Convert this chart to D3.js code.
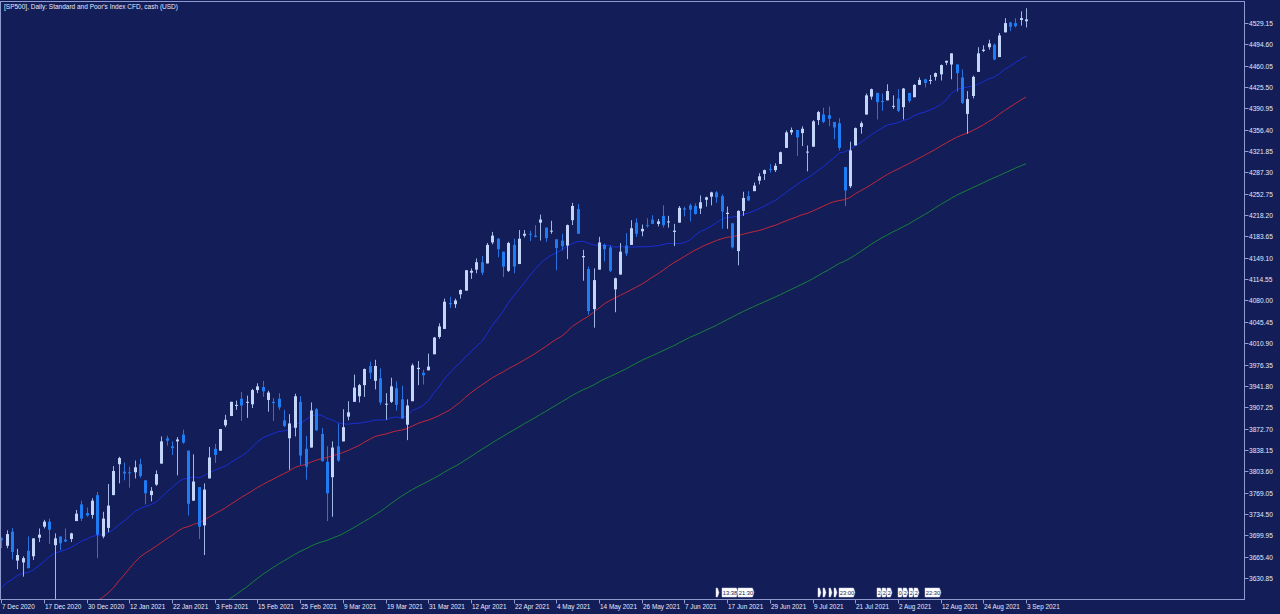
<!DOCTYPE html>
<html><head><meta charset="utf-8">
<script src="https://cdn.jsdelivr.net/npm/d3@7/dist/d3.min.js"></script>
<style>
html,body{margin:0;padding:0;background:#131d57;overflow:hidden}
svg{display:block}
text{font-family:"Liberation Sans",Arial,sans-serif}
</style></head>
<body>
<svg id="c" width="1280" height="614"></svg>
<script>
// ---------- DATA ----------
const title = "[SP500], Daily:  Standard and Poor's Index CFD, cash (USD)";
const firstDate = "2020-08-31", lastDate = "2021-09-03";
const closedDays = ["2020-12-25", "2021-01-01"];
const chartStart = "2020-12-07";
// closes before the visible window (used for moving averages)
const preCloses = [3500.3,3526.7,3580.8,3455.1,3427.0,3400,3331.8,3399.0,3339.2,3341.0,3383.5,3401.2,3385.5,3357.0,3319.5,3281.1,3315.6,3236.9,3246.6,3298.5,3351.6,3335.5,3363.0,
3380.8,3348.4,3408.6,3361.0,3419.4,3446.8,3477.1,3534.2,3511.9,3488.7,3483.3,3483.8,3426.9,3443.1,3435.6,3453.5,3465.4,3401.0,3390.7,3271.0,3310.1,3270.0,
3310.2,3369.2,3443.4,3510.5,3509.4,3550.5,3545.5,3572.7,3537.0,3585.2,3626.9,3609.5,3567.8,3581.9,3557.5,3577.6,3635.4,3629.7,3632.0,3638.4,3621.6,
3662.5,3669.0,3666.7,3699.1];
const opens = [3695,3683,3706,3659,3656,3675,3666,3696,3714,3722,3684,3698,3693,3694,3723,3750,3736,3733,
3765,3698,3712,3765,3815,3803,3802,3802,3815,3789,3765,3782,3816,3857,3844,3852,3863,3837,3756,3778,
3716,3792,3840,3837,3878,3893,3910,3921,3916,3912,3935,3940,3919,3916,3921,3886,3857,3874,3916,3840,
3842,3904,3864,3819,3794,3844,3852,3892,3916,3925,3943,3974,3950,3954,3913,3916,3938,3920,3879,3917,3969,3963,3967,
3993,4021,4034,4076,4074,4090,4096,4125,4130,4142,4140,4174,4180,4159,4128,4170,4139,4185,4188,4185,4206,4198,
4192,4179,4177,4169,4210,4228,4150,4131,4066,4130,4170,4166,4098,4122,4169,4170,4206,4192,4202,4211,4204,
4217,4207,4191,4206,4229,4234,4233,4229,4243,4248,4255,4249,4220,4205,4160,4225,4249,4257,4274,4285,4293,4291,
4301,4327,4352,4356,4351,4321,4329,4372,4381,4380,4369,4367,4296,4265,4331,4361,4381,4410,4416,4403,4404,4395,
4407,4393,4416,4409,4429,4438,4436,4442,4446,4465,4462,4462,4441,4382,4411,4450,4484,4490,4494,4474,4514,4530,
4529,4534,4532];
const highs = [3697,3708,3712,3678,3666,3698,3695,3711,3725,3727,3703,3698,3711,3704,3741,3756,3745,3760,
3770,3738,3783,3812,3827,3818,3811,3821,3824,3789,3778,3805,3860,3861,3852,3859,3871,3837,3831,3778,
3784,3843,3848,3872,3895,3916,3918,3932,3926,3937,3946,3950,3934,3922,3930,3903,3896,3929,3925,3861,
3915,3906,3874,3844,3852,3881,3904,3917,3960,3945,3970,3981,3984,3970,3930,3955,3949,3942,3920,3978,3982,3968,3994,
4021,4043,4083,4086,4083,4098,4129,4132,4148,4152,4173,4191,4181,4159,4175,4180,4194,4194,4193,4202,4219,4198,
4209,4179,4188,4203,4238,4236,4162,4135,4132,4183,4172,4169,4117,4173,4189,4210,4213,4203,4213,4218,4212,
4234,4217,4204,4233,4232,4237,4237,4250,4248,4256,4257,4252,4232,4205,4226,4256,4257,4271,4286,4292,4301,4302,
4321,4355,4360,4356,4362,4331,4372,4387,4392,4394,4369,4375,4296,4337,4360,4370,4415,4423,4416,4415,4430,4412,
4422,4424,4416,4430,4441,4439,4445,4449,4462,4468,4480,4462,4454,4419,4444,4490,4493,4502,4496,4513,4537,4531,
4537,4548,4553];
const lows = [3679,3679,3661,3645,3633,3646,3660,3689,3711,3686,3597,3676,3689,3689,3723,3723,3730,3727,
3663,3695,3705,3765,3784,3789,3777,3792,3793,3750,3755,3780,3816,3845,3830,3797,3848,3732,3756,3694,
3668,3792,3817,3837,3875,3893,3903,3885,3890,3906,3930,3924,3900,3885,3903,3875,3806,3860,3814,3790,
3842,3869,3819,3723,3730,3819,3852,3886,3916,3915,3924,3953,3936,3911,3887,3914,3902,3889,3854,3917,3943,3944,3967,
3993,4018,4034,4068,4068,4083,4096,4115,4124,4121,4140,4171,4150,4118,4126,4124,4139,4182,4176,4182,4177,4175,
4188,4129,4161,4147,4202,4188,4112,4057,4036,4130,4143,4126,4061,4122,4152,4170,4183,4184,4198,4204,4200,
4198,4198,4168,4206,4216,4208,4219,4220,4232,4234,4238,4196,4196,4164,4137,4217,4241,4257,4268,4275,4287,4288,
4301,4327,4348,4314,4330,4289,4329,4364,4367,4362,4341,4323,4233,4262,4331,4350,4381,4405,4373,4387,4404,4390,
4385,4373,4400,4409,4429,4425,4430,4436,4436,4461,4438,4418,4398,4350,4407,4450,4482,4486,4469,4474,4514,4516,
4522,4525,4522];
const closes = [3692,3702,3673,3668,3663,3647,3695,3701,3722,3709,3695,3687,3690,3703,3735,3727,3732,3756,
3701,3727,3748,3804,3825,3800,3801,3810,3796,3768,3772,3799,3852,3853,3841,3855,3850,3751,3787,3714,
3774,3826,3830,3872,3887,3916,3911,3910,3916,3935,3941,3933,3931,3914,3907,3877,3881,3925,3829,3811,
3902,3870,3820,3768,3842,3821,3875,3899,3939,3943,3969,3963,3974,3915,3913,3941,3911,3889,3910,3975,3971,3959,3973,
4020,4038,4078,4074,4080,4097,4129,4128,4142,4125,4170,4185,4163,4135,4173,4135,4180,4188,4187,4183,4211,4181,
4193,4165,4168,4202,4233,4188,4152,4063,4113,4174,4163,4128,4116,4159,4156,4197,4188,4196,4201,4204,4208,
4202,4208,4193,4230,4227,4227,4220,4239,4247,4255,4247,4224,4222,4166,4225,4246,4242,4266,4281,4291,4292,4298,
4320,4352,4356,4344,4358,4321,4370,4385,4369,4374,4360,4327,4258,4323,4359,4367,4412,4422,4401,4401,4419,4395,
4387,4423,4403,4429,4437,4432,4437,4448,4461,4468,4480,4448,4400,4406,4442,4480,4486,4496,4470,4509,4529,4523,
4524,4537,4535];
const maPeriods = [20, 50, 100];
const maColors = ["#1a2fd6", "#c0283c", "#18803c"];
const yTickLabels = ["4529.15","4494.60","4460.05","4425.50","4390.95","4356.40","4321.85","4287.30","4252.75","4218.20",
"4183.65","4149.10","4114.55","4080.00","4045.45","4010.90","3976.35","3941.80","3907.25","3872.70","3838.15","3803.60",
"3769.05","3734.50","3699.95","3665.40","3630.85"];
const xTickDates = ["2020-12-07","2020-12-17","2020-12-30","2021-01-12","2021-01-22","2021-02-03","2021-02-15","2021-02-25",
"2021-03-09","2021-03-19","2021-03-31","2021-04-12","2021-04-22","2021-05-04","2021-05-14","2021-05-26","2021-06-07",
"2021-06-17","2021-06-29","2021-07-09","2021-07-21","2021-08-02","2021-08-12","2021-08-24","2021-09-03"];
const eventDates = ["2021-06-15","2021-06-16","2021-06-21","2021-07-12","2021-07-13","2021-07-14","2021-07-15","2021-07-16",
"2021-07-27","2021-07-28","2021-07-29","2021-08-02","2021-08-03","2021-08-04","2021-08-05","2021-08-09"];
const eventLabels = ["","13:38","21:30","","","","","23:00","2","2","2","0","2","2","2","22:30"];

// ---------- BUILD ----------
const fmtISO = d3.utcFormat("%Y-%m-%d");
const fmtLabel = d3.utcFormat("%-d %b %Y");
const allDays = d3.utcDays(new Date(firstDate + "T00:00Z"), d3.utcDay.offset(new Date(lastDate + "T00:00Z"), 1))
  .filter(d => d.getUTCDay() !== 0 && d.getUTCDay() !== 6 && !closedDays.includes(fmtISO(d)));
const allIso = allDays.map(fmtISO);
const startIdx = allIso.indexOf(chartStart);
const dates = allIso.slice(startIdx);
const allCloses = preCloses.concat(closes);
const bars = dates.map((d, i) => ({i, date: d, o: opens[i], h: highs[i], l: lows[i], c: closes[i]}));

const W = 1280, H = 614;
const plot = {l: 0.5, t: 1.5, r: 1244.5, b: 599.5};
const svg = d3.select("#c");

const x = d3.scaleLinear().domain([0, dates.length - 1]).range([1.3, 1026]);
const yVals = yTickLabels.map(Number);
const y = d3.scaleLinear().domain([d3.min(yVals), d3.max(yVals)]).range([578, 23]);

svg.append("rect").attr("width", W).attr("height", H).attr("fill", "#131d57");

svg.append("clipPath").attr("id", "pc").append("rect")
  .attr("x", plot.l).attr("y", plot.t).attr("width", plot.r - plot.l).attr("height", plot.b - plot.t);
const g = svg.append("g").attr("clip-path", "url(#pc)");

// moving averages
maPeriods.forEach((p, k) => {
  const pts = [];
  bars.forEach(b => {
    const gi = preCloses.length + b.i;
    if (gi - p + 1 < 0) return;
    pts.push([b.i, d3.mean(allCloses.slice(gi - p + 1, gi + 1))]);
  });
  g.append("path").datum(pts)
    .attr("fill", "none").attr("stroke", maColors[k]).attr("stroke-width", 1)
    .attr("d", d3.line().x(d => x(d[0])).y(d => y(d[1])));
});

// candles
const bw = 3;
const cg = g.append("g").selectAll("g").data(bars).join("g");
cg.append("line")
  .attr("x1", d => Math.round(x(d.i)) + 0.5).attr("x2", d => Math.round(x(d.i)) + 0.5)
  .attr("y1", d => y(d.h)).attr("y2", d => y(d.l))
  .attr("stroke", d => d.c >= d.o ? "#9fb8e6" : "#2a72e0").attr("stroke-width", 1);
cg.append("rect")
  .attr("x", d => Math.round(x(d.i)) + 0.5 - bw / 2)
  .attr("width", bw)
  .attr("y", d => y(Math.max(d.o, d.c)))
  .attr("height", d => Math.max(1, Math.abs(y(d.o) - y(d.c))))
  .attr("fill", d => d.c >= d.o ? "#c3d6fa" : "#1f7cf2");

// frame
svg.append("rect").attr("x", plot.l).attr("y", plot.t).attr("width", plot.r - plot.l).attr("height", plot.b - plot.t)
  .attr("fill", "none").attr("stroke", "#8f9bcf").attr("stroke-width", 1);

// y axis
const ya = svg.append("g");
yVals.forEach((v, k) => {
  const yy = Math.round(y(v)) + 0.5;
  ya.append("line").attr("x1", plot.r).attr("x2", plot.r + 4).attr("y1", yy).attr("y2", yy).attr("stroke", "#8f9bcf");
  ya.append("text").attr("x", plot.r + 4.5).attr("y", yy).attr("dy", "0.35em")
    .attr("fill", "#e4e9ff").attr("font-size", "6.6px").text(yTickLabels[k]);
});

// x axis
const xa = svg.append("g");
xTickDates.forEach(ds => {
  const i = dates.indexOf(ds);
  if (i < 0) return;
  const xx = Math.round(x(i)) + 0.5;
  xa.append("line").attr("x1", xx).attr("x2", xx).attr("y1", plot.b).attr("y2", plot.b + 4).attr("stroke", "#8f9bcf");
  xa.append("text").attr("x", xx + 0.5).attr("y", 607).attr("dy", "0.35em")
    .attr("fill", "#e4e9ff").attr("font-size", "6.4px").text(fmtLabel(new Date(ds + "T00:00Z")));
});

// calendar event flags
const ev = svg.append("g");
eventDates.forEach((ds, k) => {
  const i = dates.indexOf(ds);
  if (i < 0) return;
  const xx = Math.round(x(i));
  const lab = eventLabels[k];
  const w = lab.length > 1 ? 14.5 : (lab.length ? 3.5 : 1.5);
  ev.append("path")
    .attr("d", `M${xx},588 h${w} l1.5,4.5 l-1.5,4.5 h-${w} z`)
    .attr("fill", "#ffffff").attr("stroke", "#c8cde0").attr("stroke-width", 0.5);
  if (lab) ev.append("text").attr("x", xx + 0.8).attr("y", 592.7).attr("dy", "0.35em")
    .attr("fill", "#111a4a").attr("font-size", lab.length > 1 ? "5.8px" : "5.5px").text(lab);
});

// title
svg.append("text").attr("x", 4).attr("y", 6.5).attr("dy", "0.35em")
  .attr("fill", "#e4e9ff").attr("font-size", "6.5px").text(title);
</script>
</body></html>
